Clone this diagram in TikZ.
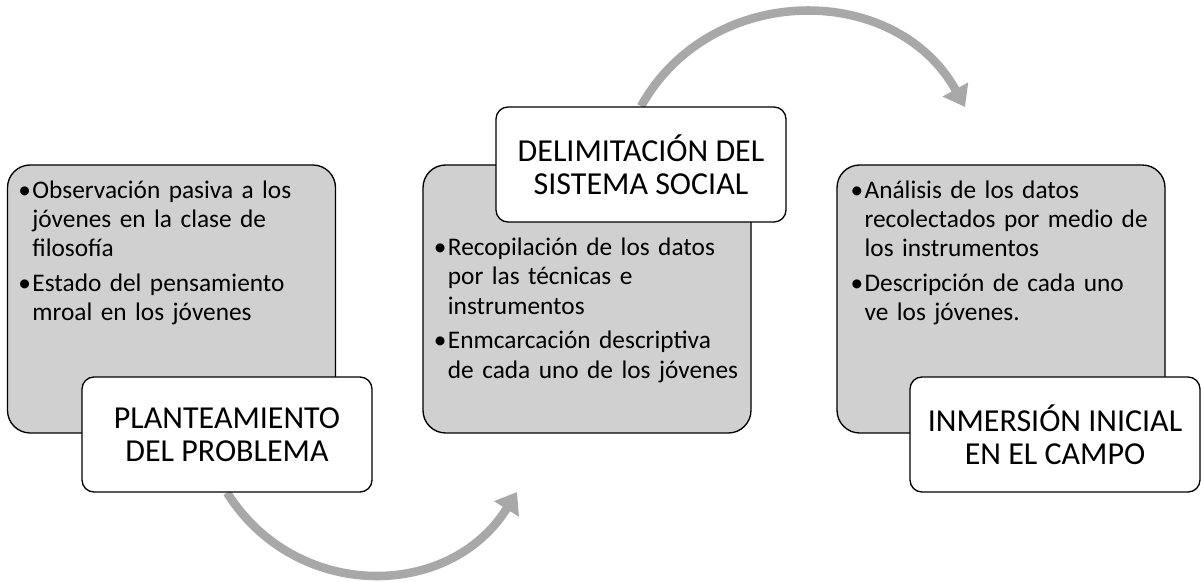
\documentclass[tikz,border=0pt]{standalone}
\usepackage{fontspec}
\setmainfont{Carlito}
\usetikzlibrary{positioning,arrows.meta}
\definecolor{boxgray}{RGB}{208,208,208}
\definecolor{arrowgray}{RGB}{168,168,168}
\pgfdeclarelayer{background}
\pgfsetlayers{background,main}
\newcommand{\bitem}[1]{\noindent\hangindent=10.5pt\hangafter=1\makebox[10.5pt][l]{\textbullet}#1\par}

\begin{document}
\begin{tikzpicture}[
        x=0.75pt, y=0.75pt,
        graybox/.style={draw, line width=1pt, fill=boxgray, rounded corners=17pt,
            minimum width=246pt, minimum height=201pt, inner sep=0pt},
        titlebox/.style={draw, line width=1pt, fill=white, rounded corners=9pt,
            minimum width=217.5pt, minimum height=86.25pt, inner sep=0pt,
            align=center, font=\fontsize{24}{25}\selectfont},
        listtext/.style={anchor=north west, inner sep=0pt, text width=260pt,
            font=\fontsize{19}{22}\selectfont,
            execute at begin node={\raggedright\setlength{\parskip}{4pt}}},
        flow/.style={draw=arrowgray, line width=6.4pt, looseness=1.13,
            -{Triangle[length=15pt,width=21pt]}}
    ]
        \useasboundingbox (0,0) rectangle (1201,581);

        % content boxes
        \node[graybox] (g1) at (171.5,282) {};
        \node[graybox] (g2) at (587,282) {};
        \node[graybox] (g3) at (1001,282) {};

        \node[listtext, below right=12pt and 8.5pt of g1.north west] (t1) {%
            \bitem{Observación pasiva a los\newline jóvenes en la clase de\newline filosofía}%
            \bitem{Estado del pensamiento\newline mroal en los jóvenes}};
        \node[listtext, below right=55pt and 8.5pt of g2.north west] (t2) {%
            \bitem{Recopilación de los datos\newline por las técnicas e\newline instrumentos}%
            \bitem{Enmcarcación descriptiva\newline de cada uno de los jóvenes}};
        \node[listtext, below right=12pt and 10.5pt of g3.north west] (t3) {%
            \bitem{Análisis de los datos\newline recolectados por medio de\newline los instrumentos}%
            \bitem{Descripción de cada uno\newline ve los jóvenes.}};

        % titles
        \node[titlebox] (plan) at (227,146.5) {PLANTEAMIENTO\\DEL PROBLEMA};
        \node[titlebox] (delim) at (641,416.5) {DELIMITACIÓN DEL\\SISTEMA SOCIAL};
        \node[titlebox] (campo) at (1055,146.5) {INMERSIÓN INICIAL\\EN EL CAMPO};

        \coordinate (end1) at (517,89);
        \coordinate (end2) at (965,474);

        \begin{pgfonlayer}{background}
            \draw[flow] (plan.south) to[bend right=58] (end1);
            \draw[flow] (delim.north) to[bend left=61] (end2);
        \end{pgfonlayer}
    \end{tikzpicture}
\end{document}
